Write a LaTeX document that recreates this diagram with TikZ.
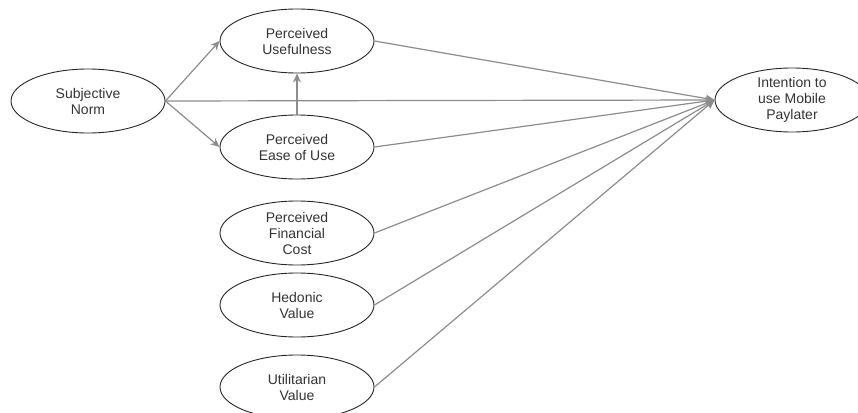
\documentclass[tikz,border=0pt]{standalone}
\usepackage{fontspec}
\setmainfont{Liberation Sans}
\usetikzlibrary{shapes.geometric,arrows.meta}
\definecolor{linkgray}{HTML}{8C8C8C}
\tikzset{
  construct/.style={draw=black!85, line width=0.9pt, ellipse, minimum width=154pt,
    minimum height=64pt, inner sep=0pt, align=center, text=black!80,
    font=\fontsize{14}{16}\selectfont},
  link/.style={draw=linkgray, line width=1.2pt, -{Stealth[length=9pt,width=8pt]}}
}
\begin{document}
\begin{tikzpicture}[x=1pt,y=-1pt]
      \useasboundingbox (0,0) rectangle (858,412);
      \draw
        (88,101) node[construct] (sn){Subjective\\Norm}
        (297,41) node[construct] (pu){Perceived\\Usefulness}
        (297,147) node[construct] (peou){Perceived\\Ease of Use}
        (297,233) node[construct] (cost){Perceived\\Financial\\Cost}
        (297,305) node[construct] (hed){Hedonic\\Value}
        (297,387) node[construct] (util){Utilitarian\\Value}
        (792,100) node[construct] (int){Intention to\\use Mobile\\Paylater};
      \begin{scope}[link]
        \draw (sn.east) to (pu.west);
        \draw (sn.east) to (peou.west);
        \draw (sn.east) to (int.west);
        \draw (peou.north) to (pu.south);
        \draw (pu.east) to (int.west);
        \draw (peou.east) to (int.west);
        \draw (cost.east) to (int.west);
        \draw (hed.east) to (int.west);
        \draw (util.east) to (int.west);
      \end{scope}
    \end{tikzpicture}
\end{document}
